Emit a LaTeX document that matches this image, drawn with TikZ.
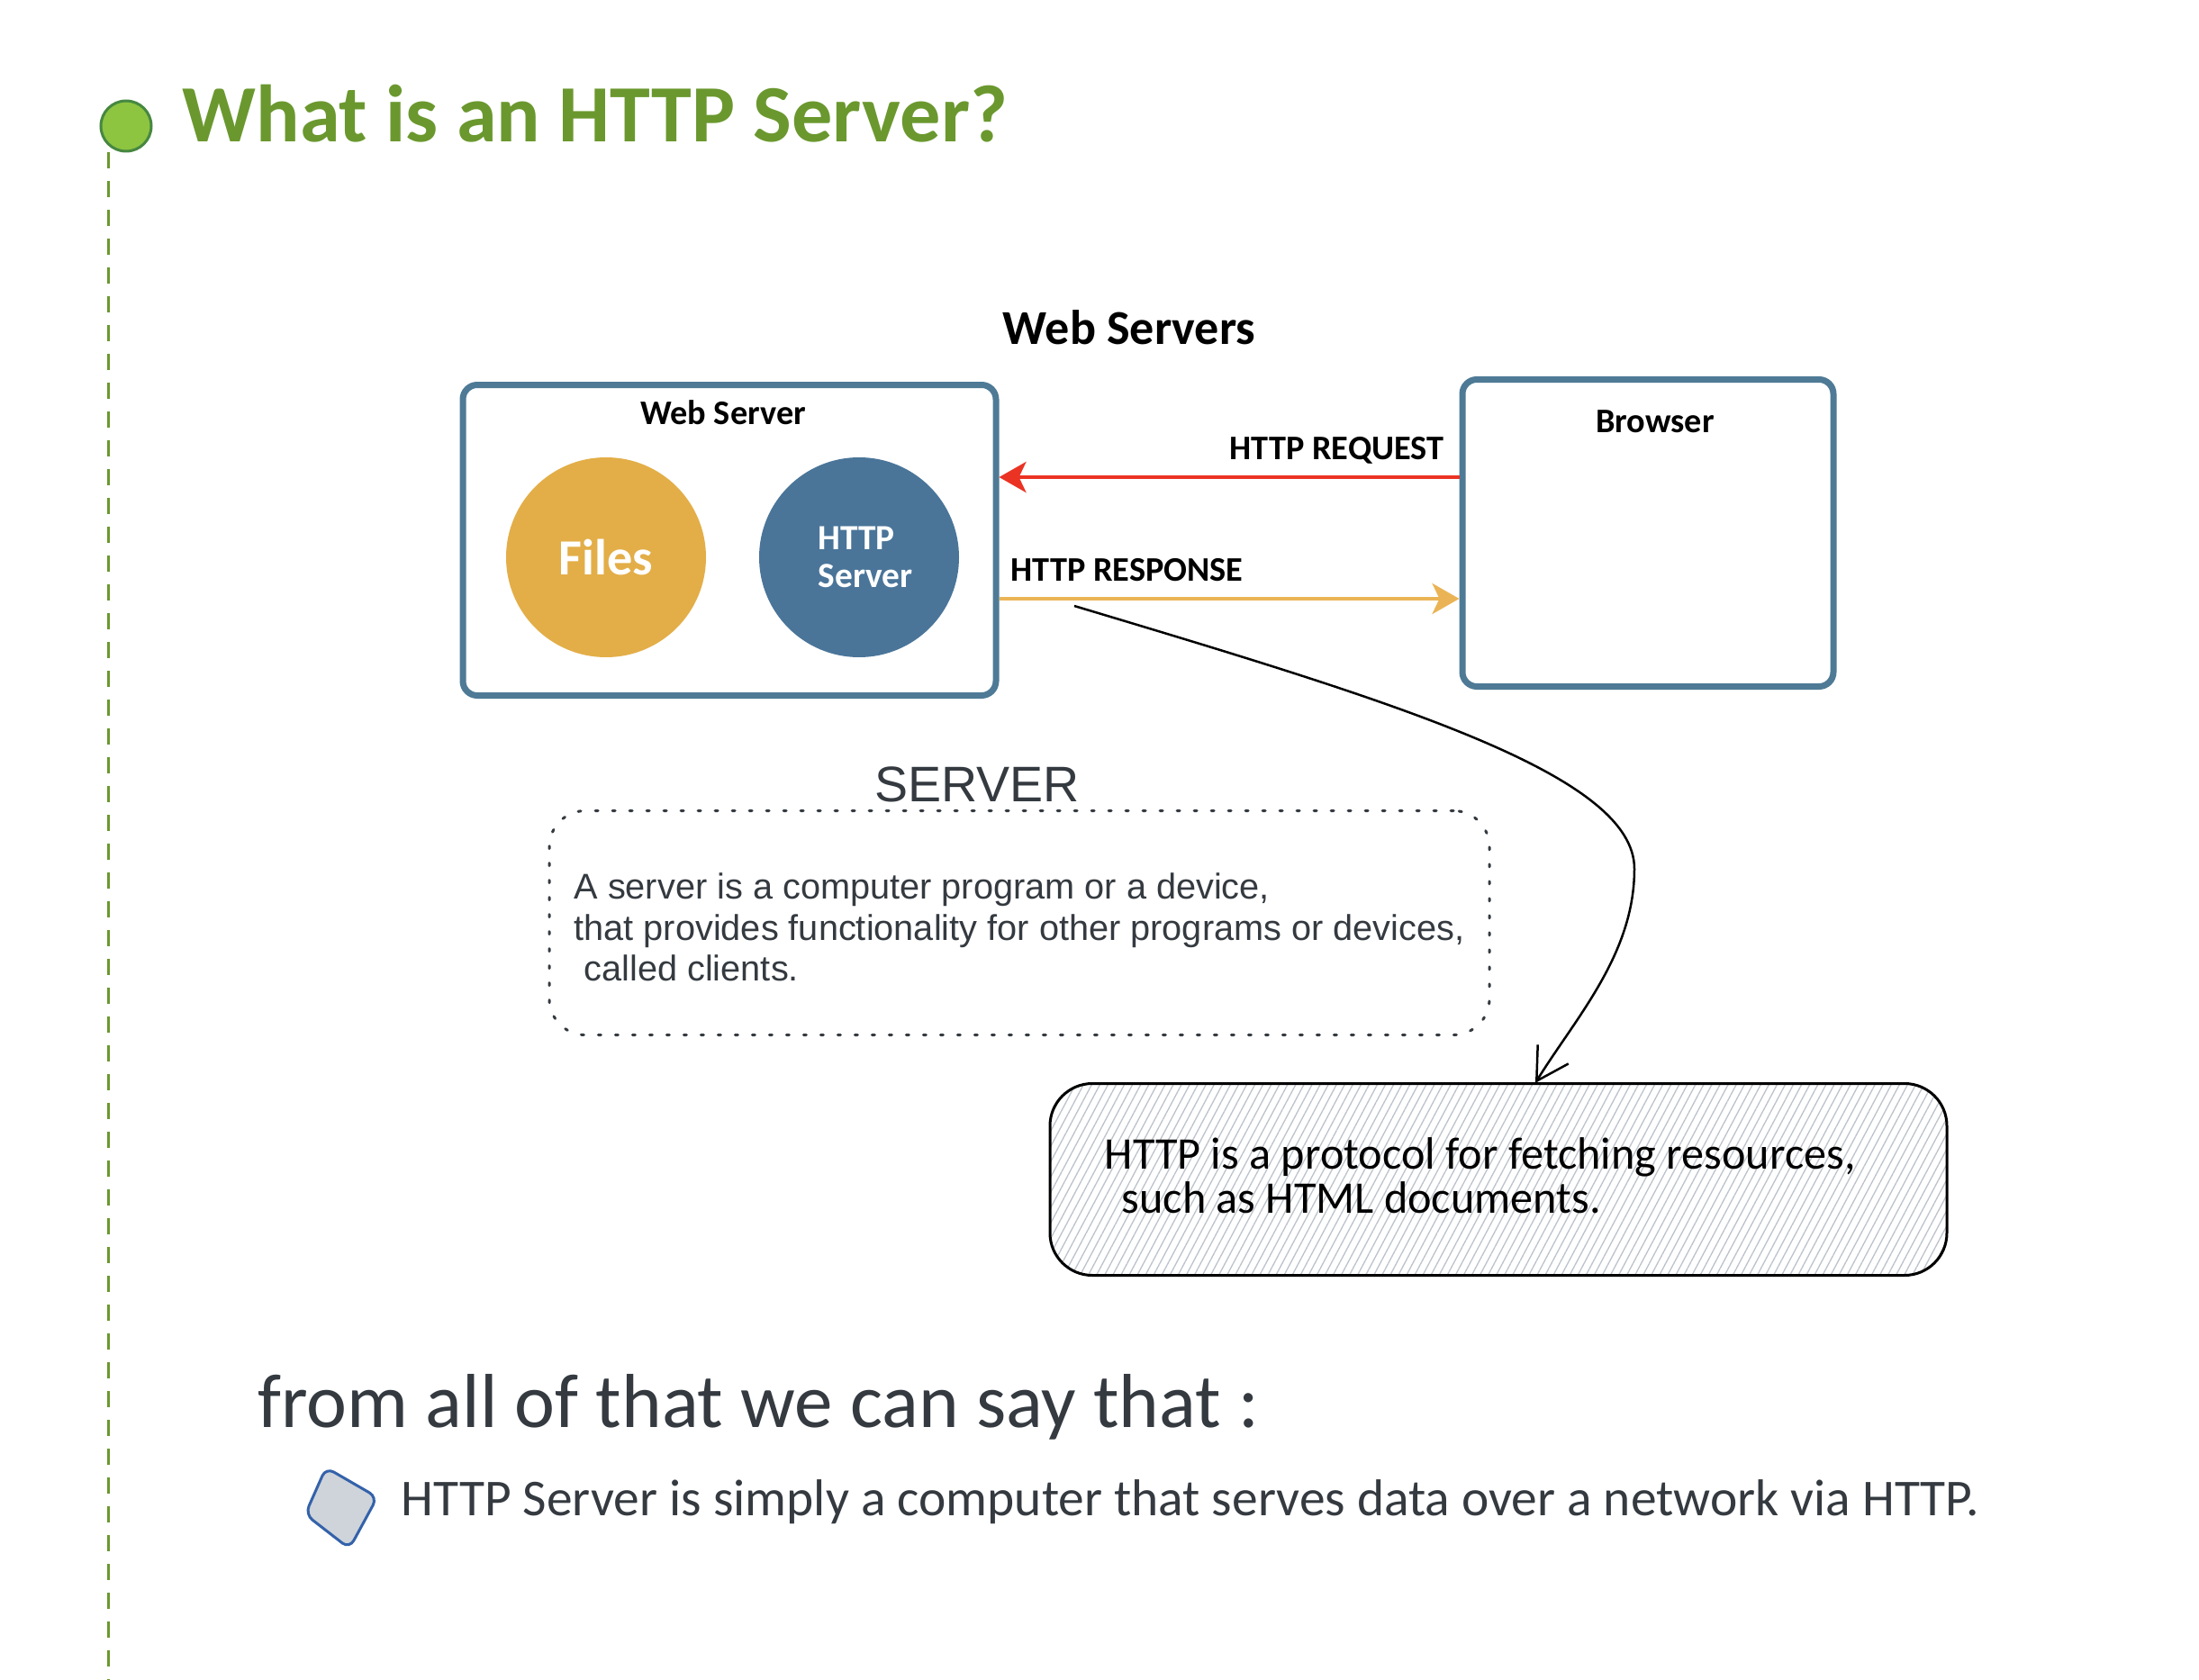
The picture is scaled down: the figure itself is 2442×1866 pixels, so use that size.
\documentclass[tikz,border=0pt]{standalone}
\usepackage{fontspec}
\setmainfont{Carlito}
\newfontfamily\helvfont{Liberation Sans}
\usetikzlibrary{positioning,arrows.meta,patterns.meta}

\definecolor{titlegreen}{RGB}{106,152,46}
\definecolor{dotgreen}{RGB}{141,196,64}
\definecolor{dotedge}{RGB}{70,135,65}
\definecolor{boxblue}{RGB}{78,122,150}
\definecolor{filesgold}{RGB}{227,174,72}
\definecolor{srvblue}{RGB}{74,117,153}
\definecolor{reqred}{RGB}{235,51,36}
\definecolor{resporange}{RGB}{234,180,86}
\definecolor{inkgray}{RGB}{52,58,64}
\definecolor{hatchgray}{RGB}{188,195,203}
\definecolor{bulletfill}{RGB}{206,212,218}
\definecolor{bulletedge}{RGB}{52,98,170}

\begin{document}
\begin{tikzpicture}[
  x=0.1mm, y=-0.1mm,
  srvbox/.style={draw=boxblue, line width=0.7mm, rounded corners=1.6mm},
  disc/.style={circle, minimum size=22.2mm, inner sep=0pt, text=white},
  lbl/.style={inner sep=0pt, font=\fontsize{10.9}{13}\selectfont\bfseries},
  hand/.style={inner sep=0pt, text=inkgray},
  arr/.style={-{Stealth[length=3mm,width=3.4mm,inset=0.8mm]}, line width=0.4mm},
  timeline/.style={titlegreen, line width=0.3mm, dash pattern=on 1.8mm off 1.4mm}
]
\fill[white] (0,0) rectangle (2442,1866);
\useasboundingbox (0,0) rectangle (2442,1866);

% heading and side line
\node[circle, fill=dotgreen, draw=dotedge, line width=0.3mm, minimum size=5.6mm, inner sep=0pt] (dot) at (140,140) {};
\node[hand, text=titlegreen, anchor=base west, font=\fontsize{25.7}{30}\selectfont\bfseries] (title) at (202,158) {What is an HTTP Server?};
\coordinate (tlbot) at (120,1866);
\draw[timeline] (dot.south -| tlbot) -- (tlbot);

% web server picture
\node[lbl, anchor=base, font=\fontsize{15.4}{18}\selectfont\bfseries] (diagtitle) at (1254,382) {Web Servers};
\node[srvbox, minimum width=59.2mm, minimum height=34.5mm] (ws) at (810,600) {};
\node[srvbox, minimum width=41.2mm, minimum height=34.1mm] (br) at (1830,592) {};
\node[lbl, anchor=base] (wslbl) at (803,472) {Web Server};
\node[lbl, anchor=base] (brlbl) at (1838,480) {Browser};
\node[disc, fill=filesgold, font=\fontsize{16}{19}\selectfont\bfseries] (files) at (673,619) {Files};
\node[disc, fill=srvblue] (httpsrv) at (954,619) {};
\node[lbl, text=white, align=left, font=\fontsize{11.2}{12}\selectfont\bfseries] (httplbl) at (961,619) {HTTP\\Server};

\coordinate (reqy) at (0,530);
\coordinate (respy) at (0,665);
\draw[arr, reqred] (br.west |- reqy) -- (ws.east |- reqy);
\draw[arr, resporange] (ws.east |- respy) -- (br.west |- respy);
\node[lbl, anchor=base east] (reqlbl) at (1604,510) {HTTP REQUEST};
\node[lbl, anchor=base west] (resplbl) at (1122,645) {HTTP RESPONSE};

% server note
\node[anchor=base, text=inkgray, inner sep=0pt, font=\helvfont\fontsize{15.8}{19}\selectfont] (srvhead) at (1085,890) {SERVER};
\node[draw=inkgray, line width=0.3mm, dash pattern=on 0.3mm off 1.6mm, line cap=round, rounded corners=4mm,
  minimum width=104.4mm, minimum height=24.9mm, align=left, text=inkgray,
  font=\helvfont\fontsize{11.3}{12.95}\selectfont] (srvnote) at (1132,1025)
  {\rule{0pt}{11.1pt}A server is a computer program or a device,\\that provides functionality for other programs or devices,\\\mbox{}\ called clients.};

% http note
\node[draw=black, line width=0.3mm, rounded corners=4.7mm, minimum width=99.6mm, minimum height=21.3mm,
  pattern={Lines[angle=62,distance=0.8mm,line width=0.13mm]}, pattern color=hatchgray] (httpnote) at (1664,1310) {};
\node[hand, text=black, anchor=base west, font=\fontsize{14.3}{14}\selectfont] (httpline1) at (1226,1298) {HTTP is a protocol for fetching resources,};
\node[hand, text=black, anchor=base west, font=\fontsize{14.3}{14}\selectfont] (httpline2) at (1245,1347) {such as HTML documents.};

\coordinate (notestart) at (1193,673);
\draw[line width=0.25mm, -{Straight Barb[length=3.5mm,width=4mm]}] (notestart)
  .. controls (1550,780) and (1815,860) .. (1815,965)
  .. controls (1815,1060) and (1750,1130) .. ([xshift=4.1mm]httpnote.north);

% conclusion
\node[hand, anchor=base west, font=\fontsize{24.2}{28}\selectfont] (summary) at (286,1585) {from all of that we can say that :};
\draw[bulletedge, fill=bulletfill, line width=0.3mm, rounded corners=1mm] (362,1630) -- (419,1663) -- (388,1720) -- (339,1682) -- cycle;
\node[hand, anchor=base west, font=\fontsize{16.35}{19}\selectfont] (point) at (445,1683) {HTTP Server is simply a computer that serves data over a network via HTTP.};
\end{tikzpicture}
\end{document}
